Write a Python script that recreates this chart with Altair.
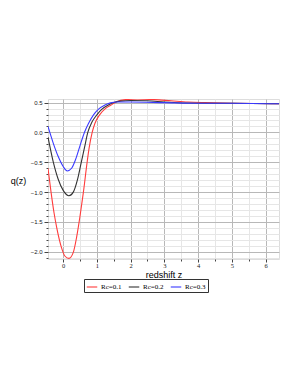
import altair as alt
import pandas as pd

series = ["Rc=0.1", "Rc=0.2", "Rc=0.3"]
colors = ["#ff3b3b", "#333333", "#3a3aff"]

z_red = [-0.45, -0.36, -0.27, -0.19, -0.05, 0.05, 0.17, 0.3, 0.4, 0.5, 0.6, 0.71, 0.77, 0.86, 0.94, 1.08, 1.25, 1.42, 1.6, 1.85, 2.2, 2.7, 3.2, 3.7, 4.2, 5.0, 6.4]
q_red = [-0.6, -1.0, -1.35, -1.6, -1.93, -2.07, -2.11, -2.01, -1.75, -1.4, -1.0, -0.5, -0.26, 0.0, 0.15, 0.295, 0.4, 0.46, 0.52, 0.55, 0.56, 0.55, 0.53, 0.51, 0.5, 0.49, 0.48]

z_black = [-0.45, -0.3, -0.15, 0.0, 0.17, 0.3, 0.42, 0.53, 0.63, 0.73, 0.85, 1.0, 1.15, 1.34, 1.5, 1.7, 2.0, 2.5, 3.0, 4.0, 5.0, 6.4]
q_black = [-0.08, -0.48, -0.78, -0.97, -1.06, -1.0, -0.8, -0.52, -0.26, 0.0, 0.17, 0.295, 0.39, 0.46, 0.5, 0.525, 0.535, 0.53, 0.51, 0.49, 0.49, 0.48]

z_blue = [-0.45, -0.3, -0.15, 0.0, 0.12, 0.25, 0.37, 0.5, 0.63, 0.75, 0.9, 1.05, 1.24, 1.4, 1.6, 2.0, 3.0, 4.0, 5.0, 6.4]
q_blue = [0.1, -0.17, -0.4, -0.57, -0.645, -0.6, -0.45, -0.22, 0.0, 0.15, 0.295, 0.39, 0.46, 0.495, 0.51, 0.51, 0.5, 0.49, 0.49, 0.48]

x_ticks = [0, 0.5, 1, 1.5, 2, 2.5, 3, 3.5, 4, 4.5, 5, 5.5, 6]
y_ticks = [-2.1, -2.0, -1.9, -1.8, -1.7, -1.6, -1.5, -1.4, -1.3, -1.2, -1.1, -1.0,
           -0.9, -0.8, -0.7, -0.6, -0.5, -0.4, -0.3, -0.2, -0.1, 0.0,
           0.1, 0.2, 0.3, 0.4, 0.5]

rows = []
for name, zs, qs in [(series[0], z_red, q_red), (series[1], z_black, q_black), (series[2], z_blue, q_blue)]:
    for z, q in zip(zs, qs):
        rows.append({"z": z, "q": q, "series": name})
df = pd.DataFrame(rows)

x_major = "datum.value % 1 == 0"
y_major = "abs(datum.value*2 - round(datum.value*2)) < 0.001"

chart = alt.Chart(df).mark_line(strokeWidth=1.1, interpolate="monotone", clip=True).encode(
    x=alt.X("z:Q",
            scale=alt.Scale(domain=[-0.45, 6.4], nice=False, zero=False),
            axis=alt.Axis(values=x_ticks, title="redshift z",
                          labelExpr=f"{x_major} ? format(datum.value, 'd') : ''",
                          gridColor={"condition": {"test": x_major, "value": "#b8b8b8"}, "value": "#e6e6e6"},
                          tickSize={"condition": {"test": x_major, "value": 3}, "value": 2},
                          tickColor="#444", domain=False,
                          labelFont="Liberation Serif", labelFontSize=6.5, labelColor="#222",
                          labelPadding=0,
                          titleFont="Liberation Sans", titleFontSize=9, titleFontWeight="normal",
                          titleColor="#000", titlePadding=2)),
    y=alt.Y("q:Q",
            scale=alt.Scale(domain=[-2.12, 0.56], nice=False, zero=False),
            axis=alt.Axis(values=y_ticks, title="q(z)",
                          labelExpr=f"{y_major} ? format(datum.value, '.1f') : ''",
                          gridColor={"condition": {"test": y_major, "value": "#b8b8b8"}, "value": "#e6e6e6"},
                          tickSize={"condition": {"test": y_major, "value": 4}, "value": 2},
                          tickColor="#444", domain=False,
                          labelFont="Liberation Sans", labelFontSize=6, labelColor="#222",
                          labelPadding=2,
                          titleFont="Liberation Sans", titleFontSize=9, titleFontWeight="normal",
                          titleColor="#000", titleAngle=0, titleAlign="center",
                          titleBaseline="middle", titleX=-30, titleY=81)),
    color=alt.Color("series:N",
                    scale=alt.Scale(domain=series, range=colors),
                    legend=alt.Legend(title=None, orient="none", direction="horizontal",
                                      legendX=36, legendY=180,
                                      symbolType="stroke", symbolSize=110, symbolStrokeWidth=1.1,
                                      labelFont="Liberation Serif", labelFontSize=7,
                                      labelColor="#000",
                                      strokeColor="#333", padding=2, columnPadding=4,
                                      labelOffset=3)),
).properties(
    width=231, height=160,
    autosize=alt.AutoSizeParams(type="none"),
    padding={"left": 40, "top": 91, "right": 5, "bottom": 100},
).configure_view(stroke="#555", strokeWidth=1.2).configure(background="white")

chart.save("out.html", embed_options={"renderer": "svg", "actions": False})
